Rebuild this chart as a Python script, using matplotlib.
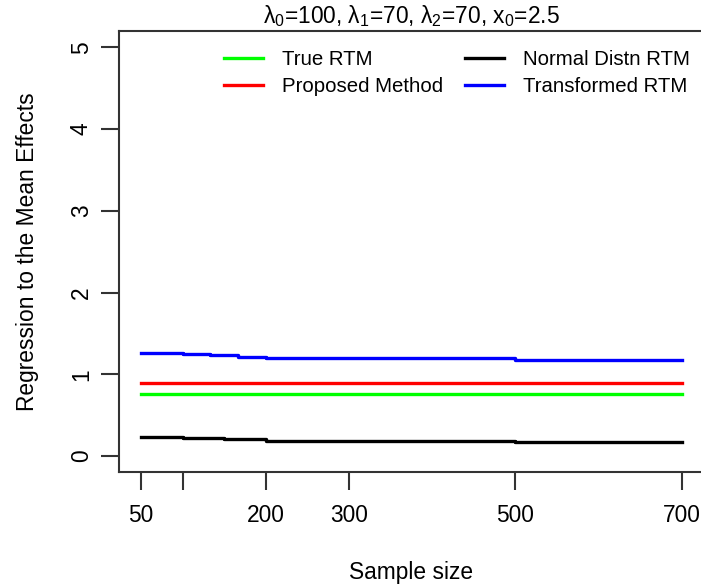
import matplotlib
matplotlib.use("Agg")
import matplotlib.pyplot as plt

plt.rcParams['font.family'] = ['Liberation Sans', 'DejaVu Sans']
plt.rcParams['mathtext.default'] = 'regular'

# Data
x_true = [50, 700]
true_rtm = [0.754, 0.754]
x_prop = [50, 300, 700]
proposed = [0.896, 0.896, 0.896]
x_norm = [50, 100, 150, 200, 500, 700]
normal_rtm = [0.236, 0.220, 0.204, 0.187, 0.171, 0.171]
x_trans = [50, 100, 133, 167, 200, 500, 700]
transformed = [1.263, 1.247, 1.231, 1.214, 1.198, 1.174, 1.174]
xticks = [50, 100, 200, 300, 500, 700]
xticklabels = ['50', '', '200', '300', '500', '700']
yticks = [0, 1, 2, 3, 4, 5]

fig = plt.figure(figsize=(7.01, 5.87), dpi=100)
ax = fig.add_axes([119.3/701, 1-472.3/587, (703.6-119.3)/701, (472.3-31)/587])

lw = 2.4
ax.plot(x_true, true_rtm, color='#00ff00', lw=lw, drawstyle='steps-post', label='True RTM')
ax.plot(x_prop, proposed, color='#ff0000', lw=lw, drawstyle='steps-post', label='Proposed Method')
ax.plot(x_norm, normal_rtm, color='black', lw=lw, drawstyle='steps-post', label='Normal Distn RTM')
ax.plot(x_trans, transformed, color='#0000ff', lw=lw, drawstyle='steps-post', label='Transformed RTM')

ax.set_xlim(24, 726)
ax.set_ylim(-0.2, 5.2)
ax.set_xticks(xticks)
ax.set_xticklabels(xticklabels, fontsize=16.4)
ax.set_yticks(yticks)
ax.set_yticklabels([str(v) for v in yticks], fontsize=16.4, rotation=90, va='center')
ax.tick_params(axis='x', length=13, width=1.5, color='#333333', pad=10)
ax.tick_params(axis='y', length=13, width=1.5, color='#333333', pad=6)
for s in ax.spines.values():
    s.set_color('#333333')
    s.set_linewidth(1.5)

ax.set_xlabel('Sample size', fontsize=16.4, labelpad=24)
ax.set_ylabel('Regression to the Mean Effects', fontsize=16.4, labelpad=22)
ax.set_title('λ$_0$=100, λ$_1$=70, λ$_2$=70, x$_0$=2.5', fontsize=16.4, pad=6)

ax.legend(loc='upper left', bbox_to_anchor=(224/701, 1-50/587),
          bbox_transform=fig.transFigure, ncol=2, frameon=False,
          fontsize=14.7, handlelength=1.89, columnspacing=1.1, handletextpad=0.93,
          labelspacing=0.4, borderpad=0, borderaxespad=0)

fig.savefig('out.png', dpi=100)
